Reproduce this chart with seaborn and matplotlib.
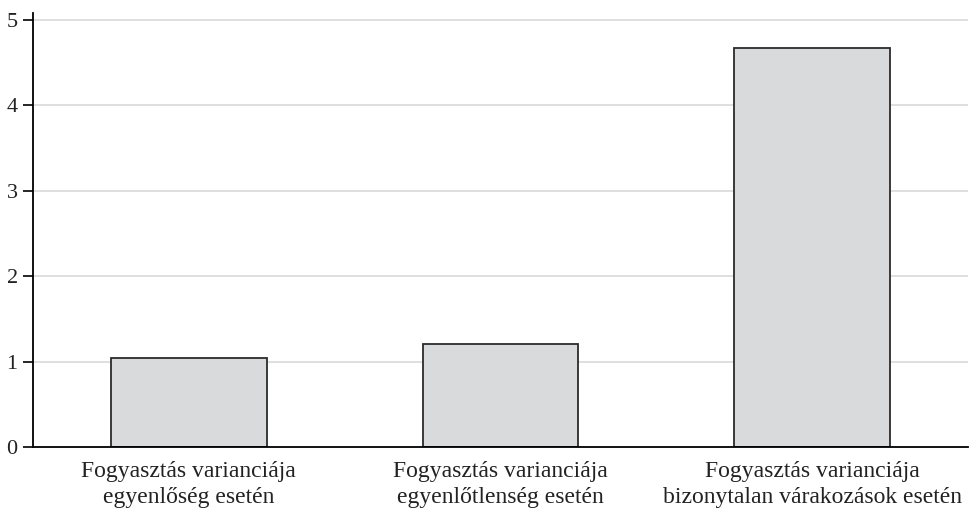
import matplotlib
matplotlib.use("Agg")
import matplotlib.pyplot as plt
import seaborn as sns
import pandas as pd

categories = [
    "Fogyasztás varianciája\negyenlőség esetén",
    "Fogyasztás varianciája\negyenlőtlenség esetén",
    "Fogyasztás varianciája\nbizonytalan várakozások esetén",
]
values = [1.04, 1.21, 4.67]
yticks = [0, 1, 2, 3, 4, 5]

sns.set_theme(style="white")
plt.rcParams["font.family"] = ["Liberation Serif", "DejaVu Serif"]

df = pd.DataFrame({"cat": categories, "val": values})

fig = plt.figure(figsize=(9.7, 5.11), dpi=100)
ax = fig.add_axes([33 / 970, 1 - 447 / 511, (968 - 33) / 970, (447 - 13) / 511])

sns.barplot(data=df, x="cat", y="val", ax=ax, color="#d9dadc", width=0.5,
            edgecolor="#2b2b2b", linewidth=1.3, saturation=1, zorder=3)

ax.set_xlim(-0.5, 2.5)
ax.set_ylim(0, 5.08)
ax.set_yticks(yticks)
ax.set_yticklabels([str(t) for t in yticks], fontsize=16, color="#222222")
for t in yticks[1:]:
    ax.axhline(t, color="#d6d6d6", linewidth=1.1, zorder=1)

# category labels centred, ticks at category boundaries
ax.set_xticks([0, 1, 2])
ax.set_xticklabels(categories, fontsize=17, color="#222222", linespacing=1.3)
ax.tick_params(axis="x", length=0, pad=10)
ax.set_xticks([-0.5, 0.5, 1.5, 2.5], minor=True)
ax.tick_params(axis="x", which="minor", length=8, width=1.2, color="black", direction="out")
ax.tick_params(axis="y", length=7, width=1.2, color="black", direction="out", pad=4, left=True)

for s in ["top", "right"]:
    ax.spines[s].set_visible(False)
for s in ["left", "bottom"]:
    ax.spines[s].set_color("black")
    ax.spines[s].set_linewidth(1.3)
    ax.spines[s].set_zorder(4)

ax.set_xlabel("")
ax.set_ylabel("")

fig.savefig("out.png", dpi=100)
